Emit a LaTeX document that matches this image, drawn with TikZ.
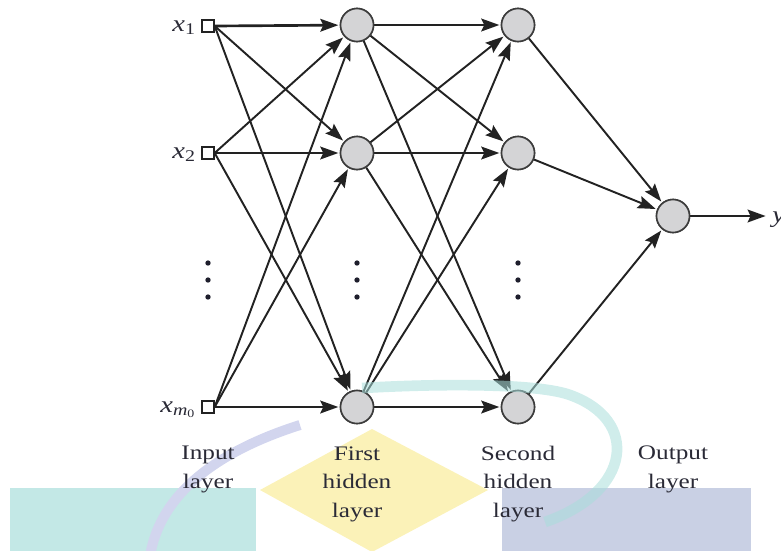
\documentclass[tikz,border=0pt]{standalone}
\usepackage{fontspec}
\setmainfont{Liberation Serif}[FakeStretch=1.22]
\usetikzlibrary{arrows.meta}
\definecolor{linec}{HTML}{222222}
\definecolor{nodeedge}{HTML}{3C3C3C}
\definecolor{nodefill}{HTML}{D4D4D6}
\definecolor{textc}{HTML}{2A2A36}
\definecolor{dotc}{HTML}{1E1E2C}
\definecolor{tealbg}{HTML}{C3E8E6}
\definecolor{bluebg}{HTML}{C9D0E4}
\definecolor{yellowbg}{HTML}{FBF2B8}
\definecolor{lavbg}{HTML}{D2D5EE}
\definecolor{tealarc}{HTML}{A9DEDB}
\tikzset{
  neuron/.style={circle, draw=nodeedge, fill=nodefill, line width=1.2pt, minimum size=24.75pt, inner sep=0pt},
  inbox/.style={rectangle, draw=linec, fill=white, line width=1pt, minimum size=9pt, inner sep=0pt},
  conn/.style={draw=linec, line width=1.45pt, -{Stealth[length=13.5pt,width=9.5pt,inset=2.2pt]}, shorten >=1pt},
  hconn/.style={conn, line width=2pt},
  lab/.style={font=\fontsize{15.5}{21.3}\selectfont, text=textc, align=center, inner sep=0pt},
  vlab/.style={font=\fontsize{17.5}{20}\selectfont\itshape, text=textc, inner sep=0pt},
  dotmark/.style={circle, fill=dotc, minimum size=4pt, inner sep=0pt}
}
\begin{document}
\begin{tikzpicture}[x=0.75pt,y=-0.75pt]
\useasboundingbox (0,0) rectangle (781,550);
% watermark shapes
\fill[tealbg] (10,488) rectangle (256,552);
\fill[bluebg] (502,488) rectangle (751,552);
\fill[yellowbg] (260,490) -- (372,429) -- (488,490) -- (372,552) -- cycle;
\draw[lavbg, line width=7.5pt] (300,425) .. controls (215,452) and (160,495) .. (150,556);
% nodes
\node[inbox] (i1) at (208,26) {};
\node[inbox] (i2) at (208,153) {};
\node[inbox] (i3) at (208,407) {};
\node[neuron] (h1) at (357,25) {};
\node[neuron] (h2) at (357,153) {};
\node[neuron] (h3) at (357,407) {};
\node[neuron] (s1) at (518,25) {};
\node[neuron] (s2) at (518,153) {};
\node[neuron] (s3) at (518,407) {};
\node[neuron] (o) at (673,216) {};
\coordinate (out) at (767,216);
% connections input -> first hidden
\foreach \i in {1,2,3}{
  \draw[hconn] (i\i.east) -- (h\i);
  \foreach \j in {1,2,3}{
    \ifnum\i=\j\else \draw[conn] (i\i.east) -- (h\j); \fi
  }
}
% first hidden -> second hidden
\foreach \i in {1,2,3}{
  \draw[hconn] (h\i) -- (s\i);
  \foreach \j in {1,2,3}{
    \ifnum\i=\j\else \draw[conn] (h\i) -- (s\j); \fi
  }
}
% second hidden -> output
\foreach \i in {1,2,3}{ \draw[conn] (s\i) -- (o); }
\draw[hconn] (o) -- (out);
% redraw nodes on top
\foreach \n in {h1,h2,h3,s1,s2,s3,o}{ \path (\n) node[neuron] {}; }
% dots
\foreach \x/\c in {208/a,357/b,518/c}{
  \node[dotmark] (d\c1) at (\x,263) {};
  \node[dotmark] (d\c2) at (\x,280) {};
  \node[dotmark] (d\c3) at (\x,297) {};
}
% input labels
\node[vlab, anchor=base east] (lx1) at (196,31) {x\textsubscript{\upshape 1}};
\node[vlab, anchor=base east] (lx2) at (196,158) {x\textsubscript{\upshape 2}};
\node[vlab, anchor=base east] (lxm) at (196,412) {x\textsubscript{m\textsubscript{\upshape 0}}};
\node[vlab, anchor=base west] (ly) at (772,222) {y};
% layer labels (base = baseline of last line)
\node[lab, anchor=base] (L1) at (208,488) {Input\\layer};
\node[lab, anchor=base] (L2) at (357,517) {First\\hidden\\layer};
\node[lab, anchor=base] (L3) at (518,517) {Second\\hidden\\layer};
\node[lab, anchor=base] (L4) at (673,488) {Output\\layer};
% teal watermark arc
\draw[tealarc, line width=8pt, opacity=0.55] (362,388) .. controls (450,383) and (540,384) .. (570,395) .. controls (640,420) and (632,492) .. (545,522);
\end{tikzpicture}
\end{document}
